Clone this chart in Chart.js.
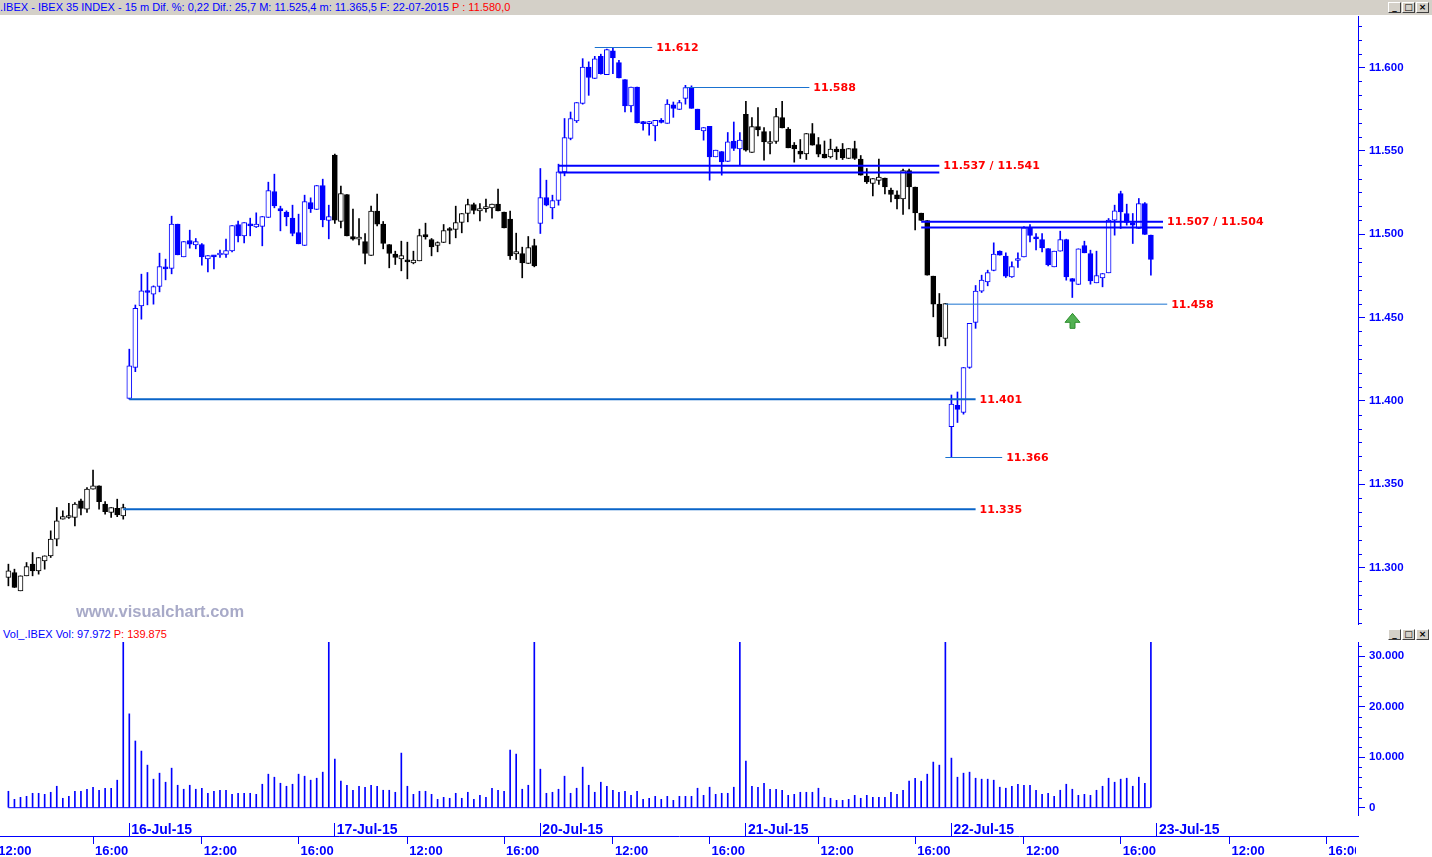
<!DOCTYPE html>
<html lang="es">
<head>
<meta charset="UTF-8">
<title>IBEX 35 INDEX - 15 m</title>
<script src="https://cdn.jsdelivr.net/npm/chart.js"></script>
<style>
  body { margin: 0; width: 1432px; height: 857px; overflow: hidden; position: relative; background: #fff;
         font-family: "Liberation Sans", Arial, sans-serif; }
  .hdr { position: absolute; left: 0; width: 1432px; height: 15px; font-size: 11px; line-height: 15px;
         white-space: pre; color: #0000ff; }
  #top { top: 0; background: #d4d0c8; }
  #volhead { top: 627px; background: #fff; }
  .red { color: #ff0000; }
  .btns { position: absolute; right: 3px; top: 2px; height: 11px; display: flex; gap: 1px; }
  .btns div { width: 11px; height: 9px; background: #d4d0c8; border: 1px solid; border-color: #fff #404040 #404040 #fff;
              font: bold 9px/9px "DejaVu Sans", sans-serif; color: #000; text-align: center; }
  #priceBox { position: absolute; left: 0; top: 16px; }
  #volBox { position: absolute; left: 0; top: 642px; }
  #wm { position: absolute; left: 76px; top: 602px; font: bold 16.5px "Liberation Sans", Arial, sans-serif;
        color: #a8aac8; }
</style>
</head>
<body>
<div id="top" class="hdr">.IBEX - IBEX 35 INDEX - 15 m Dif. %: 0,22 Dif.: 25,7 M: 11.525,4 m: 11.365,5 F: 22-07-2015 <span class="red">P : 11.580,0</span><div class="btns"><div>_</div><div>□</div><div>×</div></div></div>
<div id="priceBox"><canvas id="priceCanvas" width="1432" height="609"></canvas></div>
<div id="wm">www.visualchart.com</div>
<div id="volhead" class="hdr"> Vol_.IBEX Vol: 97.972 <span class="red">P: 139.875</span><div class="btns"><div>_</div><div>□</div><div>×</div></div></div>
<div id="volBox"><canvas id="volCanvas" width="1432" height="215"></canvas></div>

<script>
  // 15 minute bars, 15-Jul-15 12:30 .. 22-Jul-15 17:15 (index = bar number)
  const opens = [
    11294,11297,11286,11295,11302,11298,11304,11307,11317,11329,
    11330,11330,11340,11335,11347,11349,11338,11333,11335.5,11331,
    11401.5,11420,11457,11466,11464,11468.6,11480.4,11479.4,11506,11486.4,
    11496.2,11493.6,11493.8,11485.2,11487.2,11487.5,11487.8,11490,11505.8,11499,
    11506,11504.4,11504.6,11510,11525.6,11515.4,11513.2,11509.6,11501,11493.2,
    11519,11514.8,11529.2,11508.2,11547.4,11507.6,11523.8,11498.6,11497,11495.6,
    11487.2,11513.8,11506,11493.8,11488,11485.2,11484.2,11482.8,11484,11499.8,
    11496.8,11493.2,11495,11503,11502.8,11507,11512.4,11517.8,11514,11515.3,
    11515.8,11518,11513.2,11509,11488.2,11488.4,11482.4,11493.2,11506.4,11522,
    11515.8,11520.2,11537.4,11557.4,11568,11578.4,11600.3,11593.4,11606.7,11595.7,
    11610,11603,11592.7,11577,11588.3,11566.5,11566.3,11565,11568.3,11566.5,
    11577.6,11574.8,11581.4,11588,11575,11562,11564.7,11546.4,11549.6,11543.6,
    11555.8,11551.2,11571.9,11549,11564.6,11561.6,11554.4,11555.6,11570,11563,
    11553.4,11549.8,11548.2,11560.4,11553.8,11548,11546.4,11551,11551,11545.4,
    11551.4,11545,11534.8,11530.4,11532.2,11533.6,11526.4,11523.6,11521.2,11538.2,
    11528.2,11512.6,11508.2,11474.8,11458,11437.4,11384.5,11397.3,11393,11420,
    11447,11465.8,11471.4,11478.2,11489.8,11486.8,11474.4,11484.2,11486.4,11503.8,
    11498.4,11496.8,11491.4,11480.4,11489.8,11496.8,11473.4,11469.8,11493.2,11488.4,
    11470.8,11473.8,11476.8,11508.4,11524.4,11512.4,11507,11503.4,11518.4,11499.4
  ];
  const highs = [
    11302,11299,11295,11303,11309,11306,11307,11322,11336,11334,
    11338.5,11339,11341,11348,11358.5,11349,11339.5,11336,11341,11338,
    11431,11457.5,11476,11477,11469,11488.6,11485,11510.8,11506,11495.6,
    11502.4,11497.4,11494.4,11487.2,11487.2,11490.4,11497,11505.2,11507.8,11507,
    11509.6,11512.8,11510.6,11531.2,11536,11516.8,11514,11517.4,11512,11523.4,
    11521.8,11529.2,11533,11517.4,11548,11528.8,11523.8,11515,11509.4,11500.4,
    11516.8,11524,11507.6,11493.8,11489.8,11495.8,11495.2,11489.8,11503,11506.6,
    11497.4,11495.4,11505.8,11504,11516.8,11512.4,11521,11518.6,11518.4,11521,
    11518,11527,11513.2,11513.8,11500.6,11492.2,11498.6,11497,11539.4,11532.4,
    11523.4,11542,11569.4,11573.3,11579,11605.3,11603.4,11606.7,11608,11611,
    11612,11604.3,11592.7,11588.3,11588.3,11567.7,11567.7,11568.3,11569.4,11580.7,
    11579.3,11580.3,11589.3,11589,11575,11564,11564.7,11550.4,11549.6,11561,
    11567.3,11561,11579.7,11570,11575.9,11564,11561.6,11575.5,11579.7,11564,
    11555,11556.8,11560.4,11566.4,11558,11555.9,11557,11552.4,11554.4,11551.4,
    11555.8,11547.2,11539.4,11533.4,11545,11533.6,11527.6,11526,11539,11539,
    11528.2,11512.6,11508.2,11474.8,11464.4,11458.4,11403.5,11405.3,11420,11446.5,
    11469.2,11475.4,11478.4,11494.8,11490,11488.8,11483.4,11488.8,11504.5,11505.8,
    11500.4,11500.4,11491.4,11489.8,11501.8,11497,11473.4,11491.2,11495.8,11490.4,
    11489.8,11476.4,11509.4,11517.4,11525.8,11518,11512.4,11521.4,11519,11499.4
  ];
  const lows = [
    11289,11288,11286,11295,11295,11296,11299,11306,11313,11329,
    11329.5,11325,11331.5,11333,11347,11335,11332,11330,11330.5,11329,
    11401,11417.5,11449,11457.6,11458,11465.4,11472.6,11476.2,11487.6,11486.4,
    11491.6,11491.2,11481.4,11477.4,11479.2,11486,11486,11489.4,11495.4,11494.8,
    11499,11504,11493,11510,11515.8,11502,11505,11499,11494.2,11493.2,
    11513,11514.8,11504.4,11497.2,11506.4,11503.8,11499,11496.4,11493.6,11482.2,
    11487.2,11505,11491.2,11479.8,11481.8,11478,11473.2,11482.2,11484,11497,
    11487,11489.4,11495,11494.2,11497.8,11500.8,11507.4,11512.2,11508,11513.2,
    11509.6,11514,11503.8,11484.8,11484.8,11473.8,11482.4,11480.4,11500.4,11517,
    11509.2,11517.4,11535,11556.6,11567,11578,11583.3,11593.4,11596,11595.7,
    11596.3,11593.7,11573.3,11573.3,11566.7,11562.4,11559.4,11556,11566.7,11566.5,
    11570.1,11574.8,11578,11575.5,11562.7,11556.4,11532.4,11546.4,11535.4,11543.6,
    11550.2,11541.5,11549.8,11549,11558.9,11544.4,11548.2,11554.4,11563.7,11551.8,
    11543.2,11545.4,11544.8,11553.4,11546.4,11545.7,11545.7,11544.8,11544.8,11545.4,
    11544.8,11535.4,11530.4,11523,11529.8,11524.2,11519.4,11515.2,11511.8,11515.2,
    11502.6,11508.2,11475.4,11450.4,11433,11433,11366,11387,11392,11419.5,
    11443.5,11465,11469,11478,11487.4,11474,11474,11480,11486.4,11495.4,
    11490.6,11489.4,11481,11480.4,11489.8,11472.4,11462,11469.8,11488.8,11470,
    11470.8,11468.4,11476.8,11499.4,11503.4,11505.4,11494.4,11503.4,11499.8,11475.4
  ];
  const closes = [
    11298,11288,11295,11300.5,11298,11306,11307,11317,11328,11330.5,
    11330.5,11338,11335.5,11347,11349,11339.5,11333.5,11336,11331.5,11336,
    11421,11455.5,11466,11465,11468.6,11480.6,11479.2,11506,11487.6,11495.6,
    11494,11495.6,11486.4,11487.2,11486.4,11487.7,11490.2,11505.2,11499,11507,
    11505,11506,11510.6,11526.2,11517,11514,11510.4,11500.4,11494.2,11519.6,
    11515.2,11529.2,11508.6,11510.6,11508.4,11524.4,11499,11497,11497.2,11488.4,
    11513.8,11506,11494.4,11488.4,11486,11487.2,11483.4,11484.4,11499.2,11498.4,
    11492.4,11495,11502.2,11502.2,11507,11512.4,11517.8,11514.2,11515.4,11515.5,
    11518,11514,11503.8,11487,11489.6,11482.8,11492,11481,11522,11517.4,
    11520.2,11537.4,11558,11569.4,11579,11600.3,11594,11605.2,11596.3,11610.7,
    11605.7,11593.7,11577,11588.3,11566.7,11566.3,11566.4,11568.3,11567,11578,
    11575.5,11579,11588,11575.5,11562.7,11564,11546.4,11550.4,11543.4,11555.4,
    11551.4,11556.4,11550.4,11564.6,11562.5,11555.4,11555.6,11570.6,11563.7,11551.8,
    11551.2,11548,11560.4,11553.4,11548,11545.7,11551,11549.4,11545.7,11551.4,
    11545.4,11535.4,11531.4,11533.4,11534.2,11528.4,11523.8,11521.2,11538.2,11528.4,
    11512.8,11508.2,11475.4,11458,11438.4,11458.4,11398,11394.9,11420,11446.5,
    11465.8,11472.4,11477,11488,11487.4,11474.8,11480.6,11484.4,11503.8,11499.2,
    11497.2,11491.8,11481.6,11489.8,11496.8,11474.4,11471.6,11491.2,11488.8,11472,
    11475.2,11476.4,11508.4,11514,11513.4,11507,11505.4,11518.4,11499.8,11484.8
  ];
  const volumes = [
    3250,1660,2050,2250,2850,2850,2650,3050,4240,1860,2250,3250,3250,3650,4050,3450,3850,3850,5440,52000,
    18560,13190,11200,8420,5640,6830,5040,7820,4440,3650,4440,3650,3850,2850,3250,3450,3450,2650,2850,2850,
    2850,2650,4640,6630,6030,4840,4240,4640,6630,6230,5440,5830,7030,48000,
    9610,5240,4440,3450,4240,4050,4440,4240,3450,3450,3050,10800,4240,2650,3250,3250,2650,1660,2050,1860,
    2850,1860,3050,1660,2450,2050,3850,3450,3250,11400,10600,3650,4440,55000,
    7620,2850,3050,3650,6230,2850,3850,8020,4440,3050,5040,4240,3450,3050,3250,2450,3250,1660,1860,2250,
    1660,2250,1460,2250,2250,2250,3850,2450,4050,2650,2850,2850,4050,46000,
    9220,4240,4050,4840,3650,3650,3450,2450,2650,3050,3050,3050,3850,2050,1860,1460,1460,1660,2450,1860,
    2450,2050,2050,2050,3050,2650,3450,5240,5830,5240,6630,9020,8420,60000,
    9810,6030,6830,7030,5830,5640,5640,5440,4050,3850,4240,4640,4440,4440,3450,2650,2850,2250,3450,4640,
    3650,2450,2650,2450,3450,4240,5830,5040,5640,5830,4240,6030,4840,97972
  ];

  // first bar of each session
  const sessionStarts = [0, 20, 54, 88, 122, 156];
  const dayTickIdx = [20, 54, 88, 122, 156, 190];
  const dayTickLabels = ['16-Jul-15', '17-Jul-15', '20-Jul-15', '21-Jul-15', '22-Jul-15', '23-Jul-15'];
  const timeTickIdx = [-2, 14, 32, 48, 66, 82, 100, 116, 134, 150, 168, 184, 202, 218];
  const timeTickLabels = ['12:00', '16:00', '12:00', '16:00', '12:00', '16:00', '12:00', '16:00',
                          '12:00', '16:00', '12:00', '16:00', '12:00', '16:00'];

  // drawn levels: price, first bar, last bar, label ('' = no label)
  const levelPrices = [11612, 11588, 11541, 11537, 11507.5, 11504, 11458, 11401, 11366, 11335];
  const levelFrom   = [97, 112, 91, 91, 151, 151, 155, 20, 155, 19];
  const levelTo     = [106.5, 132.5, 154, 154, 191, 191, 191.7, 160, 164.4, 160];
  const levelLabels = ['11.612', '11.588', '11.537 / 11.541', '', '11.507 / 11.504', '', '11.458', '11.401', '11.366', '11.335'];
  const levelKind   = ['thin', 'thin', 'band', 'band', 'band', 'band', 'thin', 'wide', 'thin', 'wide'];

  const arrowIdx = [176];
  const arrowPrice = [11452.5];

  const BLUE = '#0000ff';
  const X_MIN = -1.39, X_MAX = 223.26;
  const AXIS_FONT = { family: '"Liberation Sans", Arial, sans-serif', size: 11.5, weight: 'bold' };
  const TIME_FONT = { family: '"Liberation Sans", Arial, sans-serif', size: 13, weight: 'bold' };
  const DATE_FONT = { family: '"Liberation Sans", Arial, sans-serif', size: 14, weight: 'bold' };
  const levelStyle = {
    thin: { color: '#1a72d0', width: 1 },
    wide: { color: '#0a64c8', width: 2 },
    band: { color: '#0000ff', width: 2 }
  };

  function sessionOf(i) {
    let s = 0;
    sessionStarts.forEach((st, k) => { if (i >= st) s = k; });
    return s;
  }
  const ink = i => (sessionOf(i) % 2 === 0 ? '#000000' : BLUE);
  const dots = v => String(Math.round(v)).replace(/\B(?=(\d{3})+(?!\d))/g, '.');

  function fixY(scale) {
    scale.width = 74;
    scale.paddingTop = 0;
    scale.paddingBottom = 0;
  }
  function fixX(h) {
    return scale => { scale.height = h; scale.paddingLeft = 0; scale.paddingRight = 0; };
  }

  // level labels, minor ticks of the price axis and the green arrow
  const priceExtras = {
    id: 'priceExtras',
    afterDatasetsDraw(chart) {
      const { ctx, scales: { x, y } } = chart;
      ctx.save();
      ctx.font = 'bold 11px "DejaVu Sans", sans-serif';
      ctx.fillStyle = '#ff0000';
      ctx.textBaseline = 'middle';
      levelLabels.forEach((t, k) => {
        if (!t) return;
        ctx.fillText(t, x.getPixelForValue(levelTo[k]) + 4, y.getPixelForValue(levelPrices[k]) + 0.5);
      });
      arrowIdx.forEach((ai, k) => {
        const px = Math.round(x.getPixelForValue(ai)) + 0.5;
        const py = y.getPixelForValue(arrowPrice[k]);
        ctx.beginPath();
        ctx.moveTo(px, py);
        ctx.lineTo(px + 7.5, py + 9);
        ctx.lineTo(px + 2.5, py + 9);
        ctx.lineTo(px + 2.5, py + 15);
        ctx.lineTo(px - 2.5, py + 15);
        ctx.lineTo(px - 2.5, py + 9);
        ctx.lineTo(px - 7.5, py + 9);
        ctx.closePath();
        ctx.fillStyle = '#52b152';
        ctx.fill();
        ctx.strokeStyle = '#2f8f2f';
        ctx.lineWidth = 1;
        ctx.stroke();
      });
      ctx.restore();
    },
    afterDraw(chart) {
      const { ctx, scales: { y }, chartArea } = chart;
      ctx.save();
      ctx.strokeStyle = BLUE;
      ctx.lineWidth = 1;
      for (let k = 0; k < 60; k++) {
        const v = 11250 + k * 50 / 6;
        if (v < y.min || v > y.max || k % 6 === 0) continue;
        const py = Math.round(y.getPixelForValue(v)) + 0.5;
        ctx.beginPath();
        ctx.moveTo(chartArea.right, py);
        ctx.lineTo(chartArea.right + 4, py);
        ctx.stroke();
      }
      ctx.restore();
    }
  };

  // minor ticks of the volume axis; time labels are cut at the axis column
  const volExtras = {
    id: 'volExtras',
    afterDraw(chart) {
      const { ctx, scales: { y, x }, chartArea } = chart;
      ctx.save();
      ctx.strokeStyle = BLUE;
      ctx.lineWidth = 1;
      for (let v = 2000; v <= y.max; v += 2000) {
        if (v % 10000 === 0) continue;
        const py = Math.round(y.getPixelForValue(v)) + 0.5;
        ctx.beginPath();
        ctx.moveTo(chartArea.right, py);
        ctx.lineTo(chartArea.right + 4, py);
        ctx.stroke();
      }
      ctx.clearRect(chartArea.right - 2, x.top + 1, chart.width, chart.height);
      ctx.restore();
    }
  };

  const idx = opens.map((_, i) => i);
  const up = i => closes[i] >= opens[i];

  const levelSets = levelPrices.map((p, k) => ({
    type: 'line',
    data: [{ x: levelFrom[k], y: p }, { x: levelTo[k], y: p }],
    borderColor: levelStyle[levelKind[k]].color,
    borderWidth: levelStyle[levelKind[k]].width,
    pointRadius: 0,
    order: 0
  }));

  new Chart(document.getElementById('priceCanvas'), {
    type: 'bar',
    data: {
      datasets: [
        {
          label: 'range',
          data: idx.map(i => ({ x: i, y: [lows[i], highs[i]] })),
          backgroundColor: c => ink(c.dataIndex),
          barThickness: 1,
          grouped: false,
          order: 3
        },
        {
          label: 'body',
          data: idx.map(i => ({ x: i, y: [opens[i], closes[i]] })),
          backgroundColor: c => (up(c.dataIndex) ? '#ffffff' : ink(c.dataIndex)),
          borderColor: c => ink(c.dataIndex),
          borderWidth: 1,
          borderSkipped: false,
          barThickness: 5,
          minBarLength: 2,
          grouped: false,
          order: 2
        },
        ...levelSets
      ]
    },
    options: {
      responsive: false,
      animation: false,
      layout: { padding: 0 },
      plugins: { legend: { display: false }, tooltip: { enabled: false } },
      scales: {
        x: { type: 'linear', min: X_MIN, max: X_MAX, offset: false, grid: { offset: false }, display: false },
        y: {
          position: 'right', min: 11265.5, max: 11630.9, beginAtZero: false,
          afterBuildTicks: s => { s.ticks = [11300, 11350, 11400, 11450, 11500, 11550, 11600].map(v => ({ value: v })); },
          afterFit: fixY,
          border: { display: true, color: BLUE, width: 1 },
          grid: { drawOnChartArea: false, color: BLUE, tickLength: 7 },
          ticks: { color: BLUE, padding: 4, callback: v => dots(v), font: AXIS_FONT }
        }
      }
    },
    plugins: [priceExtras]
  });

  new Chart(document.getElementById('volCanvas'), {
    type: 'bar',
    data: {
      datasets: [
        {
          label: 'vol',
          data: idx.map(i => ({ x: i, y: volumes[i] })),
          backgroundColor: BLUE,
          barThickness: 1,
          grouped: false,
          order: 2
        },
        {
          type: 'line',
          label: 'zero',
          data: [{ x: 0, y: 0 }, { x: volumes.length - 1, y: 0 }],
          borderColor: BLUE,
          borderWidth: 1,
          pointRadius: 0,
          order: 1
        }
      ]
    },
    options: {
      responsive: false,
      animation: false,
      layout: { padding: 0 },
      plugins: { legend: { display: false }, tooltip: { enabled: false } },
      scales: {
        x: {
          type: 'linear', min: X_MIN, max: X_MAX, offset: false, position: 'bottom', weight: 2,
          afterBuildTicks: s => { s.ticks = timeTickIdx.map(v => ({ value: v })); },
          afterFit: fixX(21),
          border: { display: true, color: BLUE, width: 1 },
          grid: { offset: false, drawOnChartArea: false, color: BLUE, tickLength: 8 },
          ticks: {
            color: BLUE, align: 'start', autoSkip: false, maxRotation: 0, padding: 0, labelOffset: 2,
            callback: (v, k) => timeTickLabels[k], font: TIME_FONT
          }
        },
        xd: {
          type: 'linear', min: X_MIN, max: X_MAX, offset: false, position: 'bottom', weight: 1,
          afterBuildTicks: s => { s.ticks = dayTickIdx.map(v => ({ value: v })); },
          afterFit: fixX(21),
          border: { display: false },
          grid: { offset: false, drawOnChartArea: false, color: BLUE, tickLength: 21, tickBorderDash: [0, 8, 13, 0] },
          ticks: {
            color: BLUE, align: 'start', autoSkip: false, maxRotation: 0, padding: -14, labelOffset: 2,
            callback: (v, k) => dayTickLabels[k], font: DATE_FONT
          }
        },
        y: {
          position: 'right', min: -1444, max: 32770, beginAtZero: false,
          afterBuildTicks: s => { s.ticks = [0, 10000, 20000, 30000].map(v => ({ value: v })); },
          afterFit: fixY,
          border: { display: true, color: BLUE, width: 1 },
          grid: { drawOnChartArea: false, color: BLUE, tickLength: 7 },
          ticks: { color: BLUE, padding: 4, callback: v => dots(v), font: AXIS_FONT }
        }
      }
    },
    plugins: [volExtras]
  });
</script>
</body>
</html>
